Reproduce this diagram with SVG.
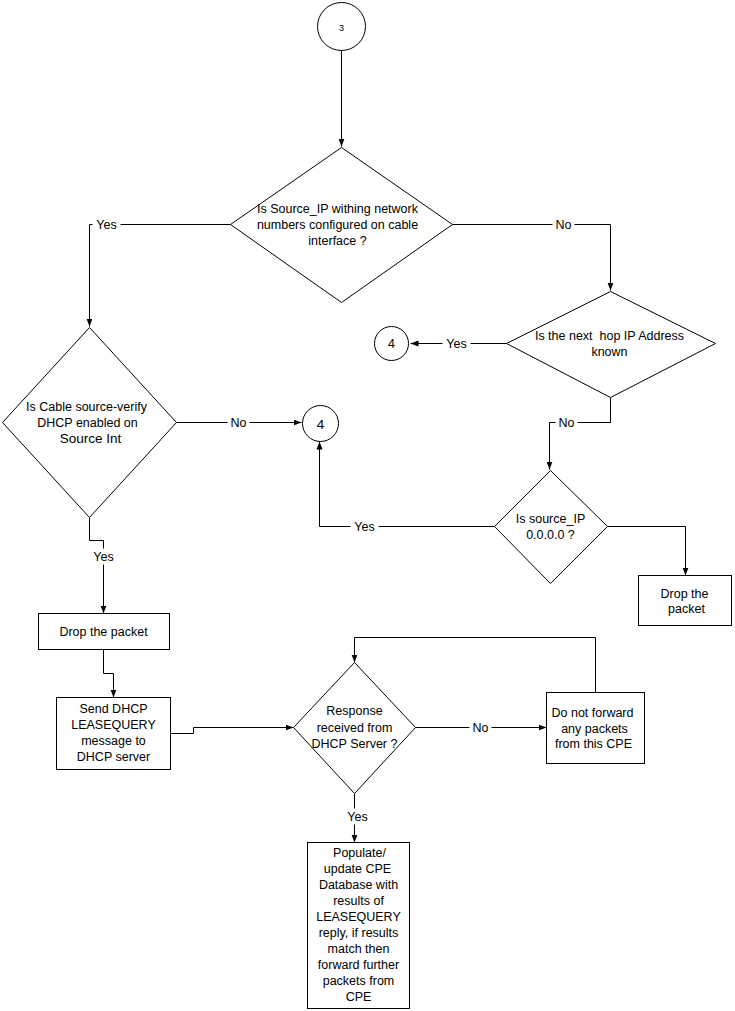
<svg xmlns="http://www.w3.org/2000/svg" width="735" height="1011" viewBox="0 0 735 1011">
<defs>
<style>
.s{fill:#fff;stroke:#000;stroke-width:1}
.t{font-family:"Liberation Sans",Arial,sans-serif;font-size:12.5px;fill:#000;text-anchor:middle}
.c{fill:none;stroke:#000;stroke-width:1}
.lb{fill:#fff;stroke:none}
</style>
<marker id="a" viewBox="0 0 8 8" refX="8" refY="4" markerWidth="8" markerHeight="8" markerUnits="userSpaceOnUse" orient="auto">
<path d="M0,1 L8,4 L0,7 Z" fill="#000"/>
</marker>
</defs>
<rect width="735" height="1011" fill="#fff"/>
<g transform="translate(0.5,0.5)">
<g id="connectors">
<path class="c" d="M341,50 V146" marker-end="url(#a)"/>
<path class="c" d="M230,224 H89 V326" marker-end="url(#a)"/>
<path class="c" d="M452,224 H610 V290" marker-end="url(#a)"/>
<path class="c" d="M506,343 H410" marker-end="url(#a)"/>
<path class="c" d="M610,397 V422 H549 V469" marker-end="url(#a)"/>
<path class="c" d="M494,526 H319 V441" marker-end="url(#a)"/>
<path class="c" d="M607,526 H685 V575" marker-end="url(#a)"/>
<path class="c" d="M176,422 H301" marker-end="url(#a)"/>
<path class="c" d="M89,517 V540 H103 V613" marker-end="url(#a)"/>
<path class="c" d="M103,649 V673 H113 V697" marker-end="url(#a)"/>
<path class="c" d="M170,733 H193 V727 H293" marker-end="url(#a)"/>
<path class="c" d="M415,727 H546" marker-end="url(#a)"/>
<path class="c" d="M595,692 V637 H354 V662" marker-end="url(#a)"/>
<path class="c" d="M354,793 V842" marker-end="url(#a)"/>
<rect class="lb" x="92" y="216" width="28" height="16"/>
<text class="t" x="106" y="228">Yes</text>
<rect class="lb" x="552" y="216" width="22" height="16"/>
<text class="t" x="563" y="228">No</text>
<rect class="lb" x="442" y="335" width="28" height="16"/>
<text class="t" x="456" y="347">Yes</text>
<rect class="lb" x="555" y="414" width="22" height="16"/>
<text class="t" x="566" y="426">No</text>
<rect class="lb" x="350" y="518" width="28" height="16"/>
<text class="t" x="364" y="530">Yes</text>
<rect class="lb" x="227" y="414" width="22" height="16"/>
<text class="t" x="238" y="426">No</text>
<rect class="lb" x="89" y="548" width="28" height="16"/>
<text class="t" x="103" y="560">Yes</text>
<rect class="lb" x="469" y="719" width="22" height="16"/>
<text class="t" x="480" y="731">No</text>
<rect class="lb" x="343" y="808" width="28" height="16"/>
<text class="t" x="357" y="820">Yes</text>
</g>
<g id="c3">
<circle class="s" cx="341" cy="26" r="24"/>
<text class="t" x="341" y="30" style="font-size:9px">3</text>
</g>
<g id="d1">
<polygon class="s" points="341,147 452,224 341,302 230,224"/>
<text class="t" x="337" y="212">Is Source_IP withing network</text>
<text class="t" x="337" y="228">numbers configured on cable</text>
<text class="t" x="337" y="244">interface ?</text>
</g>
<g id="d3">
<polygon class="s" points="610,291 715,343 610,397 506,343"/>
<text class="t" x="609" y="339" xml:space="preserve">Is the next  hop IP Address</text>
<text class="t" x="609" y="355">known</text>
</g>
<g id="c4a">
<circle class="s" cx="391" cy="343" r="17"/>
<text class="t" x="391" y="347">4</text>
</g>
<g id="d2">
<polygon class="s" points="89,327 176,422 89,517 2,422"/>
<text class="t" x="86" y="410">Is Cable source-verify</text>
<text class="t" x="87" y="426">DHCP enabled on</text>
<text class="t" x="90" y="442" style="font-size:13.5px">Source Int</text>
</g>
<g id="c4b">
<circle class="s" cx="320" cy="423" r="18"/>
<text class="t" x="320" y="428" style="font-size:13.5px">4</text>
</g>
<g id="d4">
<polygon class="s" points="550,470 607,526 550,583 494,526"/>
<text class="t" x="550" y="522">Is source_IP</text>
<text class="t" x="550" y="538">0.0.0.0 ?</text>
</g>
<g id="drop2">
<rect class="s" x="638" y="575" width="93" height="50"/>
<text class="t" x="684" y="597">Drop the</text>
<text class="t" x="686" y="612">packet</text>
</g>
<g id="drop1">
<rect class="s" x="38" y="613" width="131" height="36"/>
<text class="t" x="103" y="635">Drop the packet</text>
</g>
<g id="send">
<rect class="s" x="56" y="697" width="114" height="72"/>
<text class="t" x="113" y="712">Send DHCP</text>
<text class="t" x="113" y="728">LEASEQUERY</text>
<text class="t" x="113" y="744">message to</text>
<text class="t" x="113" y="760">DHCP server</text>
</g>
<g id="d5">
<polygon class="s" points="354,662 415,727 354,793 293,727"/>
<text class="t" x="354" y="714">Response</text>
<text class="t" x="354" y="731">received from</text>
<text class="t" x="354" y="747">DHCP Server ?</text>
</g>
<g id="dnf">
<rect class="s" x="546" y="692" width="98" height="71"/>
<text class="t" x="592" y="716">Do not forward</text>
<text class="t" x="594" y="732">any packets</text>
<text class="t" x="593" y="747">from this CPE</text>
</g>
<g id="pop">
<rect class="s" x="307" y="842" width="102" height="166"/>
<text class="t" x="359" y="856">Populate/</text>
<text class="t" x="357" y="872">update CPE</text>
<text class="t" x="358" y="888">Database with</text>
<text class="t" x="358" y="904">results of</text>
<text class="t" x="358" y="920">LEASEQUERY</text>
<text class="t" x="358" y="936">reply, if results</text>
<text class="t" x="358" y="952">match then</text>
<text class="t" x="358" y="968">forward further</text>
<text class="t" x="358" y="984">packets from</text>
<text class="t" x="358" y="1000">CPE</text>
</g>
</g>
</svg>
